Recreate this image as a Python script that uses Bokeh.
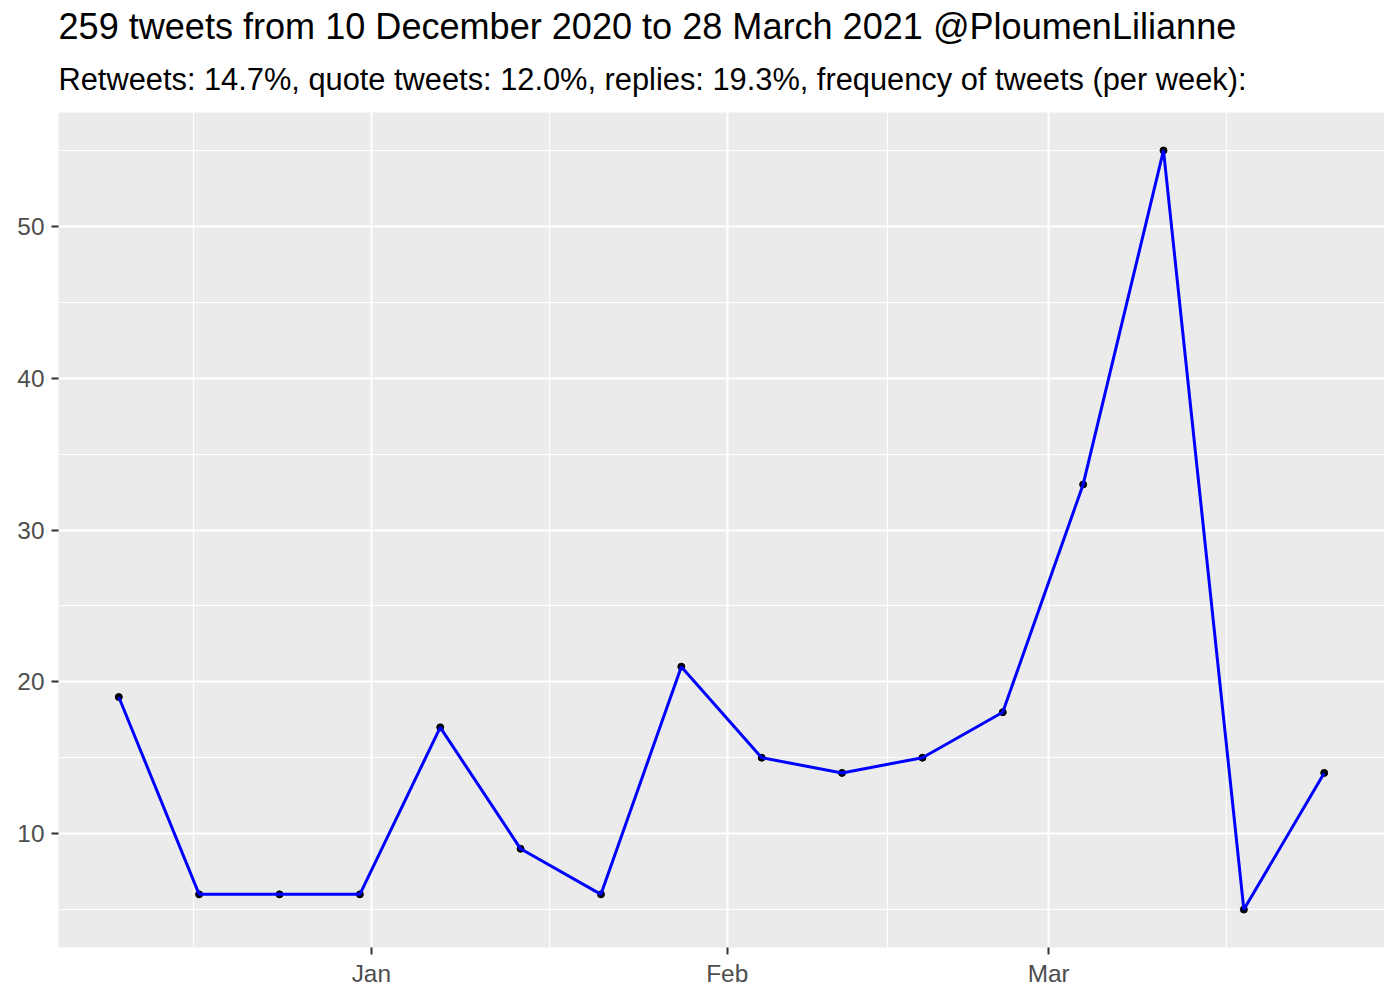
import numpy as np
from bokeh.plotting import figure
from bokeh.models import Range1d, FixedTicker, Title, DatetimeTickFormatter
from bokeh.embed import file_html
from bokeh.resources import INLINE

# ---- data ----
week_dates = ["2020-12-10", "2020-12-17", "2020-12-24", "2020-12-31",
              "2021-01-07", "2021-01-14", "2021-01-21", "2021-01-28",
              "2021-02-04", "2021-02-11", "2021-02-18", "2021-02-25",
              "2021-03-04", "2021-03-11", "2021-03-18", "2021-03-25"]
tweets_per_week = [19, 6, 6, 6, 17, 9, 6, 21, 15, 14, 15, 18, 33, 55, 5, 14]

x_tick_dates = ["2021-01-01", "2021-02-01", "2021-03-01"]
x_minor_dates = ["2020-12-16T12:00", "2021-01-16T12:00", "2021-02-15T00:00", "2021-03-16T12:00"]
y_ticks = [10, 20, 30, 40, 50]
y_minor_ticks = [5, 15, 25, 35, 45, 55]

title_text = "259 tweets from 10 December 2020 to 28 March 2021 @PloumenLilianne"
subtitle_text = "Retweets: 14.7%, quote tweets: 12.0%, replies: 19.3%, frequency of tweets (per week):"

# ---- conversions ----
def to_ms(lst):
    return np.array(lst, dtype="datetime64[ms]").astype("int64")

x_ms = to_ms(week_dates)
xt_ms = to_ms(x_tick_dates)
xm_ms = to_ms(x_minor_dates)

span = x_ms.max() - x_ms.min()
xpad = 0.05 * span
ypad = 0.05 * (max(tweets_per_week) - min(tweets_per_week))

FONT = "Liberation Sans"

p = figure(x_axis_type="datetime", frame_width=1326, frame_height=835,
           min_border_left=58, min_border_right=0, min_border_top=112, min_border_bottom=37,
           output_backend="svg", toolbar_location=None,
           x_range=Range1d(x_ms.min() - xpad, x_ms.max() + xpad),
           y_range=Range1d(min(tweets_per_week) - ypad, max(tweets_per_week) + ypad),
           title=title_text)

p.title.text_font = FONT
p.title.text_font_size = "36.1px"
p.title.text_font_style = "normal"
p.title.text_color = "black"
p.title.standoff = -7
p.title.offset = 0
sub_title = Title(text=subtitle_text, text_font=FONT, text_font_size="30.8px",
                  text_font_style="normal", text_color="black", standoff=32)
p.add_layout(sub_title, "above")

p.background_fill_color = "#EBEBEB"
p.border_fill_color = "white"
p.outline_line_color = None

# ticks
p.xaxis.ticker = FixedTicker(ticks=list(xt_ms), minor_ticks=list(xm_ms))
p.yaxis.ticker = FixedTicker(ticks=y_ticks, minor_ticks=y_minor_ticks)
p.xaxis.formatter = DatetimeTickFormatter(months="%b", days="%b", years="%b", hours="%b")

for ax in (p.xaxis, p.yaxis):
    ax.axis_line_color = None
    ax.major_tick_line_color = "#333333"
    ax.major_tick_line_width = 2
    ax.major_tick_out = 7
    ax.major_tick_in = 0
    ax.minor_tick_line_color = None
    ax.major_label_text_font = FONT
    ax.major_label_text_font_size = "24.4px"
    ax.major_label_text_color = "#4D4D4D"
    ax.major_label_standoff = 7
p.xaxis.major_label_standoff = 5

for g in (p.xgrid, p.ygrid):
    g.grid_line_color = "white"
    g.grid_line_width = 2
    g.minor_grid_line_color = "white"
    g.minor_grid_line_width = 1

p.scatter(x_ms, tweets_per_week, size=7, color="black")
p.line(x_ms, tweets_per_week, line_color="#0000FF", line_width=3)

open("out.html", "w").write(file_html(p, INLINE))
